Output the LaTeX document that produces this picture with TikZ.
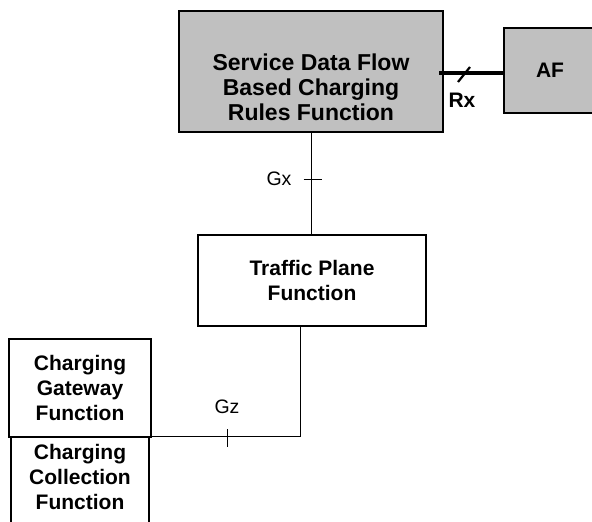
\documentclass[tikz,border=0pt]{standalone}
\usepackage{fontspec}
\setmainfont{Liberation Sans}
\definecolor{boxgray}{RGB}{192,192,192}

\begin{document}
\begin{tikzpicture}[x=1pt,y=1pt]
                    \tikzset{funcbox/.style={draw, line width=1.2pt, rectangle, inner sep=0pt, align=center, font=\fontsize{21}{25}\selectfont\bfseries}}
                    \tikzset{graybox/.style={funcbox, fill=boxgray}}
                    \tikzset{ifline/.style={line width=0.9pt}}
                    \tikzset{iflabel/.style={font=\fontsize{19.5}{22}\selectfont}}
                    \clip (0,0) rectangle (592,-522);
                    \node[graybox, minimum width=264, minimum height=121,
                          label={[align=center, yshift=-15.5pt, font=\fontsize{23}{25}\selectfont\bfseries]center:Service Data Flow\\Based Charging\\Rules Function}]
                          (sdf) at (311,-71.5) {};
                    \node[graybox, minimum width=92, minimum height=85] (af) at (550,-70.5) {AF};
                    \node[funcbox, minimum width=228, minimum height=91] (tpf) at (312,-280.5) {Traffic Plane\\Function};
                    \node[funcbox, minimum width=142, minimum height=98] (cgf) at (80,-388) {Charging\\Gateway\\Function};
                    \node[funcbox, minimum width=138, minimum height=170, anchor=north,
                          label={[align=center, yshift=46pt, font=\fontsize{21}{25}\selectfont\bfseries]center:Charging\\Collection\\Function}]
                          (ccf) at (80,-437) {};
                    \coordinate (rxa) at (439,-73);
                    \coordinate (rxmid) at (464,-74.5);
                    \draw[line width=4.5pt] (rxa) -- (rxa -| af.west);
                    \draw[line width=2.2pt] ([shift={(-6,-7.5)}]rxmid) -- ([shift={(6,7.5)}]rxmid);
                    \node[font=\fontsize{21}{25}\selectfont\bfseries] (rx) at (462,-100) {Rx};
                    \draw[ifline] (sdf.south) -- (sdf.south |- tpf.north);
                    \coordinate (gxtick) at (311,-179);
                    \draw[ifline] ([xshift=-7.5pt]gxtick) -- ([xshift=10.5pt]gxtick);
                    \node[iflabel] (gx) at (279,-179) {Gx};
                    \draw[ifline] ([xshift=-12pt]tpf.south) |- ([yshift=1pt]cgf.south east);
                    \coordinate (gztick) at (227,-438);
                    \draw[ifline] ([yshift=9pt]gztick) -- ([yshift=-9pt]gztick);
                    \node[iflabel] (gz) at (227,-407) {Gz};
                    \end{tikzpicture}
\end{document}
